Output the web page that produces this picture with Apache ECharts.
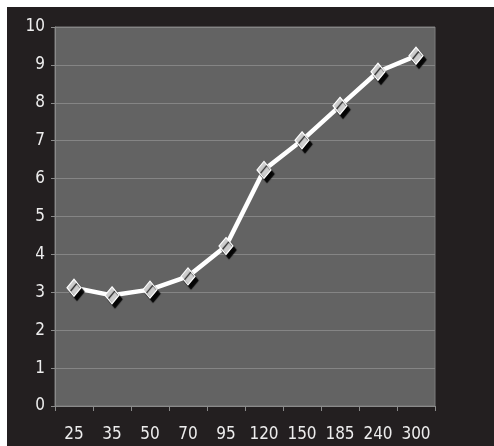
<!DOCTYPE html>
<html>
<head>
<meta charset="utf-8">
<script src="https://cdn.jsdelivr.net/npm/echarts@6/dist/echarts.min.js"></script>
<style>
  html, body { margin: 0; padding: 0; background: #ffffff; }
  #frame { position: relative; width: 494px; height: 446px; background: #ffffff; overflow: hidden; }
  #chart { position: absolute; left: 7px; top: 7px; width: 487px; height: 439px; }
</style>
</head>
<body>
<div id="frame"><div id="chart"></div></div>
<script>
// x categories and measured values
const categories = ['25', '35', '50', '70', '95', '120', '150', '185', '240', '300'];
const values = [3.12, 2.92, 3.07, 3.42, 4.22, 6.23, 7.01, 7.92, 8.82, 9.24];
const yTicks = { min: 0, max: 10, interval: 1 };

const labelFont = {
  color: '#ededed',
  fontFamily: '"Liberation Sans Narrow", "DejaVu Sans Condensed", sans-serif',
  fontSize: 17
};

const chart = echarts.init(document.getElementById('chart'), null, { renderer: 'canvas' });
chart.setOption({
  backgroundColor: '#231f20',
  animation: false,
  grid: {
    left: 48, top: 20, width: 380, height: 379,
    show: true,
    backgroundColor: '#636363',
    borderColor: '#7c7c7c',
    borderWidth: 1
  },
  xAxis: {
    type: 'category',
    data: categories,
    boundaryGap: true,
    axisLine: { show: true, lineStyle: { color: '#8a8a8a', width: 1 } },
    axisTick: { show: true, alignWithLabel: false, length: 5, lineStyle: { color: '#8a8a8a' } },
    axisLabel: Object.assign({ margin: 20, interval: 0 }, labelFont),
    splitLine: { show: false }
  },
  yAxis: {
    type: 'value',
    min: yTicks.min,
    max: yTicks.max,
    interval: yTicks.interval,
    axisLine: { show: true, lineStyle: { color: '#8a8a8a', width: 1 } },
    axisTick: { show: true, length: 4, lineStyle: { color: '#8a8a8a' } },
    axisLabel: Object.assign({ margin: 10 }, labelFont),
    splitLine: { show: true, lineStyle: { color: '#858585', width: 1 } }
  },
  series: [{
    type: 'line',
    data: values,
    symbol: 'diamond',
    symbolSize: [14, 17],
    showAllSymbol: true,
    lineStyle: { color: '#ffffff', width: 4.5 },
    itemStyle: {
      color: '#cdcdcd',
      borderColor: '#ffffff',
      borderWidth: 1.2,
      shadowColor: 'rgba(0,0,0,0.95)',
      shadowBlur: 1,
      shadowOffsetX: 3,
      shadowOffsetY: 4
    },
    z: 3
  }]
});
</script>
</body>
</html>
